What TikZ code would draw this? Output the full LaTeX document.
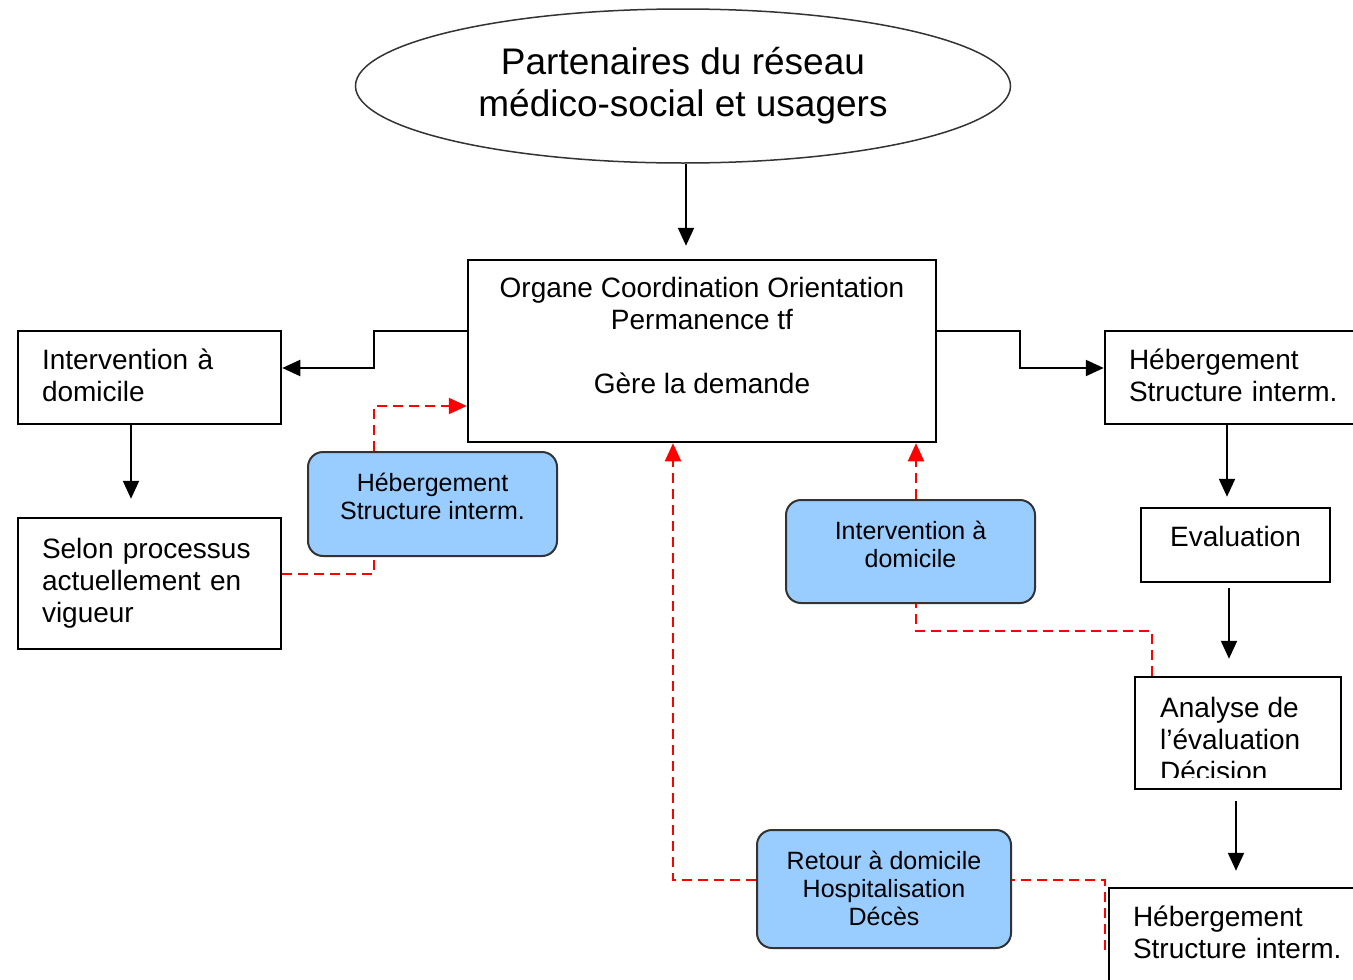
\documentclass[tikz,border=0pt]{standalone}
\usepackage{fontspec}
\setmainfont{Liberation Sans}
\usetikzlibrary{arrows.meta,shapes.geometric,calc}
\definecolor{bluefill}{HTML}{99CCFF}
\definecolor{dashred}{HTML}{FF0000}
\newcommand{\lifted}[3]{\raisebox{#1}[\height][\depth]{\begin{tabular}{@{}#2@{}}#3\end{tabular}}}
\begin{document}
\begin{tikzpicture}[x=1pt,y=-1pt,
  wbox/.style={draw=black, line width=2.5pt, inner sep=0pt, font=\fontsize{28}{32}\selectfont},
  lbox/.style={wbox, align=left, text width=215pt, inner xsep=24pt, minimum width=263pt},
  bbox/.style={draw=black!80, line width=2pt, fill=bluefill, rounded corners=15pt, inner sep=0pt, font=\fontsize{25}{28}\selectfont},
  arr/.style={line width=2.2pt, -{Triangle[width=16pt,length=18pt]}},
  rline/.style={draw=dashred, line width=2pt, dash pattern=on 10pt off 6pt},
  rarr/.style={rline, -{Triangle[width=16pt,length=18pt]}}
]
\clip (0,0) rectangle (1353,980);

% main nodes
\node[ellipse, draw=black!80, line width=1.5pt, minimum width=655pt, minimum height=154pt, inner sep=0pt, align=center, font=\fontsize{37}{42}\selectfont] (ell) at (683,86) {Partenaires du réseau\\médico-social et usagers};
\node[wbox, minimum width=468pt, minimum height=182pt] (central) at (702,351) {\lifted{12pt}{c}{Organe Coordination Orientation\\Permanence tf\\[32pt]Gère la demande}};
\node[lbox, minimum height=93pt] (interv) at (149.5,377.5) {\lifted{-2pt}{l}{Intervention à\\domicile}};
\node[lbox, minimum height=131pt] (selon) at (149.5,583.5) {Selon processus\\actuellement en\\vigueur};
\node[lbox, minimum height=93pt] (hebR) at (1236.5,377.5) {\lifted{-2pt}{l}{Hébergement\\Structure interm.}};
\node[wbox, minimum width=189pt, minimum height=74pt] (eval) at (1235.5,545) {\lifted{5pt}{c}{Evaluation}};
\node[wbox, minimum width=206pt, minimum height=112pt] (analyse) at (1238,733) {};
\begin{scope}
  \clip (1136,678) rectangle (1340,777);
  \node[font=\fontsize{28}{32}\selectfont, align=left, anchor=west, inner sep=0pt] (analysetxt) at (1160,739) {Analyse de\\l’évaluation\\Décision};
\end{scope}
\node[lbox, minimum height=110pt] (hebB) at (1240.5,943) {\lifted{7pt}{l}{Hébergement\\Structure interm.}};

% blue boxes
\node[bbox, minimum width=249pt, minimum height=104pt] (blue1) at (432.5,504) {\lifted{4pt}{c}{Hébergement\\Structure interm.}};
\node[bbox, minimum width=249pt, minimum height=103pt] (blue2) at (910.5,551.5) {\lifted{3.5pt}{c}{Intervention à\\domicile}};
\node[bbox, minimum width=254pt, minimum height=118pt] (blue3) at (884,889) {\lifted{-3pt}{c}{Retour à domicile\\Hospitalisation\\Décès}};

% black connectors
\coordinate (ellfoot) at ($(ell.south)+(3,0)$);
\draw[arr, shorten >=13pt] (ellfoot) -- (ellfoot |- central.north);
\draw[arr] (central.west |- 0,331) -- (374,331) -- (374,368) -- (interv.east |- 0,368);
\draw[arr] (central.east |- 0,331) -- (1020,331) -- (1020,368) -- (hebR.west |- 0,368);
\draw[arr, shorten >=18pt] (interv.south -| 131,0) -- (selon.north -| 131,0);
\draw[arr, shorten >=10pt] (hebR.south -| 1227,0) -- (eval.north -| 1227,0);
\draw[arr, shorten <=5pt, shorten >=17pt] (eval.south -| 1229,0) -- (analyse.north -| 1229,0);
\draw[arr, shorten <=11pt, shorten >=16pt] (analyse.south -| 1236,0) -- (hebB.north -| 1236,0);

% red dashed connectors
\draw[rline] (selon.east |- 0,574) -| (blue1.south -| 374,0);
\draw[rarr] (blue1.north -| 374,0) |- (central.west |- 0,406);
\draw[rline] (analyse.north -| 1152,0) |- (916,631) -- (blue2.south -| 916,0);
\draw[rarr] (blue2.north -| 916,0) -- (central.south -| 916,0);
\coordinate (hfree) at (1105,950);
\draw[rline] (hfree) |- (blue3.east |- 0,880);
\draw[rarr] (blue3.west |- 0,880) -| (central.south -| 673,0);
\end{tikzpicture}
\end{document}
